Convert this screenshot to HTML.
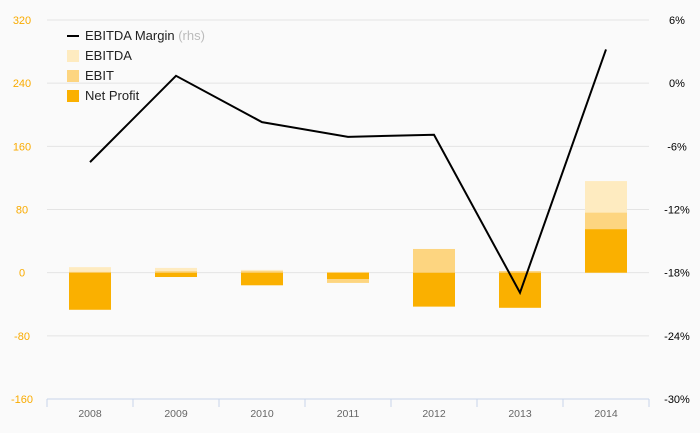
<!DOCTYPE html>
<html><head><meta charset="utf-8"><style>
body{margin:0;background:#fafafa;}
svg{display:block;font-family:"Liberation Sans",sans-serif;}
</style></head><body>
<svg id="chart" width="700" height="433" viewBox="0 0 700 433">
<rect width="700" height="433" fill="#fafafa"/>
<g id="grid"></g><g id="bars"></g><g id="line"></g><g id="axes"></g>
<g font-size="13" fill="#222">
 <g><rect x="67" y="35" width="12" height="2" fill="#000"/><text x="85" y="40">EBITDA Margin <tspan fill="#bbb">(rhs)</tspan></text></g>
 <g><rect x="67" y="50" width="12" height="12" fill="#feebc0"/><text x="85" y="60">EBITDA</text></g>
 <g><rect x="67" y="70" width="12" height="12" fill="#fdd580"/><text x="85" y="80">EBIT</text></g>
 <g><rect x="67" y="90" width="12" height="12" fill="#fab000"/><text x="85" y="100">Net Profit</text></g>
</g>
</svg>
<script>
const categories=["2008","2009","2010","2011","2012","2013","2014"];
const ebitda=[7,6,3.5,1,30,2,116];
const ebit=[1,2,2,-13,30,2,76];
const netProfit=[-47,-5.5,-16,-8,-43,-44.5,55];
const margin=[-7.5,0.7,-3.7,-5.1,-4.9,-19.9,3.2];
const leftTicks=[320,240,160,80,0,-80,-160];
const rightTicks=["6%","0%","-6%","-12%","-18%","-24%","-30%"];
const NS="http://www.w3.org/2000/svg";
const X0=47,X1=649,Y0=20,Y1=399;
const band=(X1-X0)/categories.length;
const xC=i=>X0+band*(i+0.5);
const yL=v=>Y0+(320-v)/480*(Y1-Y0);
const yR=v=>Y0+(6-v)/36*(Y1-Y0);
function mk(t,a,p){const e=document.createElementNS(NS,t);for(const k in a)e.setAttribute(k,a[k]);p.appendChild(e);return e;}
const grid=document.getElementById('grid'),axes=document.getElementById('axes'),bars=document.getElementById('bars'),line=document.getElementById('line');
leftTicks.forEach((v,i)=>{const y=yL(v);
 if(i<leftTicks.length-1){const g=mk('line',{x1:X0,x2:X1,y1:y,y2:y,stroke:'#e4e4e4','stroke-width':1},grid);
 
 }
 const t=mk('text',{x:22,y:y+4,'text-anchor':'middle','font-size':11,fill:'#f9ab00'},axes);t.textContent=v;
 
 
 const r=mk('text',{x:677,y:y+4,'text-anchor':'middle','font-size':11,fill:'#000'},axes);r.textContent=rightTicks[i];
 
 
});
const ax=mk('line',{x1:X0,x2:X1,y1:Y1,y2:Y1,stroke:'#c8d4ea','stroke-width':1},axes);


for(let i=0;i<=categories.length;i++){const x=X0+band*i;const tk=mk('line',{x1:x,x2:x,y1:Y1,y2:Y1+8,stroke:'#c8d4ea'},axes);
 
 }
categories.forEach((c,i)=>{const t=mk('text',{x:xC(i),y:417,'text-anchor':'middle','font-size':10.5,fill:'#666'},axes);t.textContent=c;
 
 });
const series=[[ebitda,'#feebc0','bar-ebitda'],[ebit,'#fdd580','bar-ebit'],[netProfit,'#fab000','bar-net-profit']];
series.forEach(([arr,col,nm])=>arr.forEach((v,i)=>{const y=Math.min(yL(v),yL(0)),h=Math.abs(yL(v)-yL(0));
 const r=mk('rect',{x:xC(i)-21,y:y,width:42,height:h,fill:col},bars);
 
 }));
const pl=mk('polyline',{points:margin.map((v,i)=>xC(i)+','+yR(v)).join(' '),fill:'none',stroke:'#000','stroke-width':2,'stroke-linejoin':'miter'},line);


</script>
</body></html>
